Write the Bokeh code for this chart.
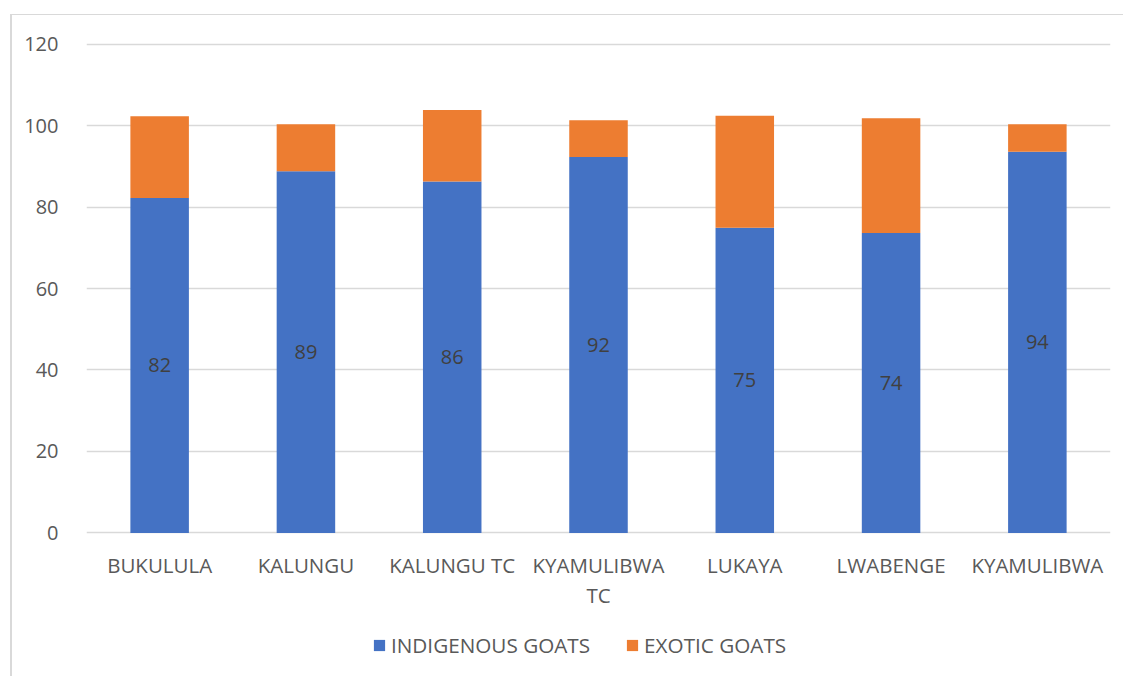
from bokeh.plotting import figure
from bokeh.models import ColumnDataSource, Range1d, FixedTicker, Legend, LegendItem
from bokeh.core.properties import value
from bokeh.embed import file_html
from bokeh.resources import INLINE

# Goat breeds per sub-county (percent of households)
subcounties = ["BUKULULA", "KALUNGU", "KALUNGU TC", "KYAMULIBWA TC", "LUKAYA", "LWABENGE", "KYAMULIBWA"]
# category labels, split over two lines
label_line1 = ["BUKULULA", "KALUNGU", "KALUNGU TC", "KYAMULIBWA", "LUKAYA", "LWABENGE", "KYAMULIBWA"]
label_line2 = ["", "", "", "TC", "", "", ""]
indigenous = [82.2, 88.8, 86.3, 92.3, 74.9, 73.6, 93.6]
exotic = [20.1, 11.5, 17.5, 9.0, 27.5, 28.2, 6.7]
y_ticks = [0, 20, 40, 60, 80, 100, 120]

FONT = "Open Sans"
AXIS_GREY = "#595959"
GRID_GREY = "#d9d9d9"
BLUE = "#4472C4"
ORANGE = "#ED7D31"

# the category labels and legend live inside the frame, below the zero line
LINE1_Y = -7.8
LINE2_Y = -15.2

source = ColumnDataSource(dict(
    cat=subcounties,
    indigenous=indigenous,
    exotic=exotic,
    mid=[v / 2 for v in indigenous],
    label=[f"{v:.0f}" for v in indigenous],
    line1=label_line1,
    line2=label_line2,
    y1=[LINE1_Y] * len(subcounties),
    y2=[LINE2_Y] * len(subcounties),
))

p = figure(
    x_range=subcounties,
    y_range=Range1d(-35.5, 120.4),
    width=1113, height=662,
    output_backend="svg", toolbar_location=None,
    min_border_left=74, min_border_right=15,
    min_border_top=27, min_border_bottom=0,
    margin=(14, 0, 0, 10),
    x_axis_location=None,
)
p.styles = {"border-top": "1px solid #d9d9d9", "border-left": "2px solid #d9d9d9"}
p.outline_line_color = None

renderers = p.vbar_stack(
    ["indigenous", "exotic"], x="cat", width=0.4,
    color=[BLUE, ORANGE], line_color=None, source=source,
)

# value labels in the middle of the indigenous segment
p.text(x="cat", y="mid", text="label", source=source,
       text_align="center", text_baseline="middle",
       text_font=value(FONT), text_font_size="20px", text_color="#404040")

# category labels
for col_y, col_text in (("y1", "line1"), ("y2", "line2")):
    p.text(x="cat", y=col_y, text=col_text, source=source,
           text_align="center", text_baseline="middle",
           text_font=value(FONT), text_font_size="20.5px", text_color=AXIS_GREY)

yax = p.yaxis[0]
yax.ticker = FixedTicker(ticks=y_ticks)
yax.axis_line_color = None
yax.major_tick_line_color = None
yax.minor_tick_line_color = None
yax.major_label_text_font = FONT
yax.major_label_text_font_size = "20px"
yax.major_label_text_color = AXIS_GREY
yax.major_label_standoff = 22

p.xgrid.grid_line_color = None
p.ygrid.ticker = FixedTicker(ticks=y_ticks)
p.ygrid.grid_line_color = GRID_GREY
p.ygrid.grid_line_width = 1.5

legend = Legend(
    items=[LegendItem(label="INDIGENOUS GOATS", renderers=[renderers[0]]),
           LegendItem(label="EXOTIC GOATS", renderers=[renderers[1]])],
    orientation="horizontal", location=(286, 18),
    glyph_width=14, glyph_height=14, label_standoff=5, spacing=35,
    padding=0, margin=0, border_line_color=None, background_fill_alpha=0,
    label_text_font=FONT, label_text_font_size="20.7px", label_text_color=AXIS_GREY,
)
p.add_layout(legend, "center")

open("out.html", "w").write(file_html(p, INLINE))
